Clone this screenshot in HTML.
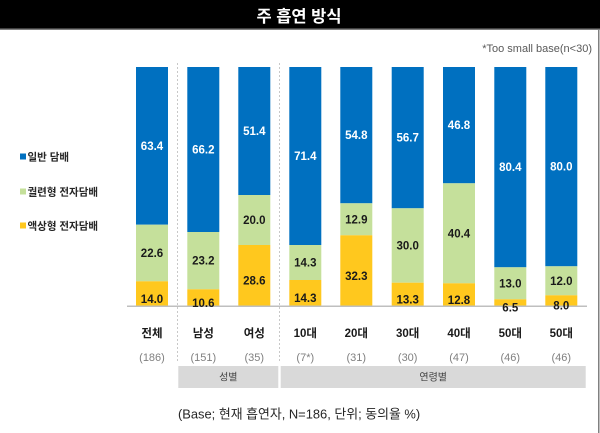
<!DOCTYPE html>
<html>
<head>
<meta charset="utf-8">
<style>
html,body{margin:0;padding:0;background:#fff;}
body{width:600px;height:433px;overflow:hidden;}
svg{display:block;}
text{font-family:"Liberation Sans","Noto Sans CJK KR",sans-serif;}
</style>
</head>
<body>
<svg width="600" height="433" viewBox="0 0 600 433" xmlns="http://www.w3.org/2000/svg">
  <!-- title bar -->
  <rect x="0" y="0" width="600" height="28.5" fill="#000"/>
  <rect x="0" y="28.5" width="600" height="1.5" fill="#808080"/>
  <rect x="598" y="28.5" width="1.5" height="405" fill="#808080"/>
  <text x="299" y="22" text-anchor="middle" font-size="16.5" font-weight="bold" fill="#fff">주 흡연 방식</text>

  <text x="592" y="52" text-anchor="end" font-size="11" fill="#595959">*Too small base(n&lt;30)</text>

  <!-- legend -->
  <rect x="20" y="153.5" width="6" height="6" fill="#0070C0"/>
  <text x="27.5" y="160.5" font-size="10.5" font-weight="bold" fill="#262626">일반 담배</text>
  <rect x="20" y="188.5" width="6" height="6" fill="#C5E09B"/>
  <text x="27.5" y="195.5" font-size="10.5" font-weight="bold" fill="#262626">궐련형 전자담배</text>
  <rect x="20" y="222.5" width="6" height="6" fill="#FFC81E"/>
  <text x="27.5" y="229.5" font-size="10.5" font-weight="bold" fill="#262626">액상형 전자담배</text>

  <!-- separators -->
  <line x1="177.5" y1="63" x2="177.5" y2="363" stroke="#c8c8c8" stroke-width="1" stroke-dasharray="2,2"/>
  <line x1="279.5" y1="63" x2="279.5" y2="363" stroke="#c8c8c8" stroke-width="1" stroke-dasharray="2,2"/>

  <!-- bars -->
  <g id="bars">
    <rect x="136" y="67" width="32" height="157.7" fill="#0070C0"/>
    <rect x="136" y="224.7" width="32" height="56.6" fill="#C5E09B"/>
    <rect x="136" y="281.3" width="32" height="24.5" fill="#FFC81E"/>
    <rect x="187.3" y="67" width="32" height="165" fill="#0070C0"/>
    <rect x="187.3" y="232" width="32" height="57.3" fill="#C5E09B"/>
    <rect x="187.3" y="289.3" width="32" height="16.5" fill="#FFC81E"/>
    <rect x="238.3" y="67" width="32" height="128" fill="#0070C0"/>
    <rect x="238.3" y="195" width="32" height="50" fill="#C5E09B"/>
    <rect x="238.3" y="245" width="32" height="60.8" fill="#FFC81E"/>
    <rect x="289.3" y="67" width="32" height="178" fill="#0070C0"/>
    <rect x="289.3" y="245" width="32" height="35" fill="#C5E09B"/>
    <rect x="289.3" y="280" width="32" height="25.8" fill="#FFC81E"/>
    <rect x="340.3" y="67" width="32" height="136.3" fill="#0070C0"/>
    <rect x="340.3" y="203.3" width="32" height="32" fill="#C5E09B"/>
    <rect x="340.3" y="235.3" width="32" height="70.5" fill="#FFC81E"/>
    <rect x="391.7" y="67" width="32" height="141.3" fill="#0070C0"/>
    <rect x="391.7" y="208.3" width="32" height="74.4" fill="#C5E09B"/>
    <rect x="391.7" y="282.7" width="32" height="23.1" fill="#FFC81E"/>
    <rect x="443" y="67" width="32" height="116.3" fill="#0070C0"/>
    <rect x="443" y="183.3" width="32" height="100" fill="#C5E09B"/>
    <rect x="443" y="283.3" width="32" height="22.5" fill="#FFC81E"/>
    <rect x="494.3" y="67" width="32" height="200.3" fill="#0070C0"/>
    <rect x="494.3" y="267.3" width="32" height="32" fill="#C5E09B"/>
    <rect x="494.3" y="299.3" width="32" height="6.5" fill="#FFC81E"/>
    <rect x="545.3" y="67" width="32" height="199.3" fill="#0070C0"/>
    <rect x="545.3" y="266.3" width="32" height="29" fill="#C5E09B"/>
    <rect x="545.3" y="295.3" width="32" height="10.5" fill="#FFC81E"/>
  </g>

  <!-- axis -->
  <rect x="127" y="305.5" width="460" height="1.5" fill="#bfbfbf"/>

  <!-- value labels -->
  <g font-size="11.5" font-weight="bold" text-anchor="middle">
    <g fill="#fff">
      <text x="152" y="150">63.4</text>
      <text x="203.3" y="153.5">66.2</text>
      <text x="254.3" y="135">51.4</text>
      <text x="305.3" y="160">71.4</text>
      <text x="356.3" y="139">54.8</text>
      <text x="407.7" y="141.5">56.7</text>
      <text x="459" y="129">46.8</text>
      <text x="510.3" y="171">80.4</text>
      <text x="561.3" y="170.5">80.0</text>
    </g>
    <g fill="#1a1a1a">
      <text x="152" y="257">22.6</text>
      <text x="203.3" y="264.5">23.2</text>
      <text x="254.3" y="224">20.0</text>
      <text x="305.3" y="266.5">14.3</text>
      <text x="356.3" y="223.3">12.9</text>
      <text x="407.7" y="249.5">30.0</text>
      <text x="459" y="237.3">40.4</text>
      <text x="510.3" y="287.3">13.0</text>
      <text x="561.3" y="284.8">12.0</text>

      <text x="152" y="303">14.0</text>
      <text x="203.3" y="307">10.6</text>
      <text x="254.3" y="284.5">28.6</text>
      <text x="305.3" y="302">14.3</text>
      <text x="356.3" y="280">32.3</text>
      <text x="407.7" y="303.5">13.3</text>
      <text x="459" y="304">12.8</text>
      <text x="510.3" y="311.5">6.5</text>
      <text x="561.3" y="309.5">8.0</text>
    </g>
  </g>

  <!-- category labels -->
  <g font-size="11.5" text-anchor="middle" fill="#1a1a1a" font-weight="bold">
    <text x="152" y="337">전체</text>
    <text x="203.3" y="337">남성</text>
    <text x="254.3" y="337">여성</text>
    <text x="305.3" y="337">10대</text>
    <text x="356.3" y="337">20대</text>
    <text x="407.7" y="337">30대</text>
    <text x="459" y="337">40대</text>
    <text x="510.3" y="337">50대</text>
    <text x="561.3" y="337">50대</text>
  </g>
  <g font-size="11" text-anchor="middle" fill="#808080">
    <text x="152" y="361">(186)</text>
    <text x="203.3" y="361">(151)</text>
    <text x="254.3" y="361">(35)</text>
    <text x="305.3" y="361">(7*)</text>
    <text x="356.3" y="361">(31)</text>
    <text x="407.7" y="361">(30)</text>
    <text x="459" y="361">(47)</text>
    <text x="510.3" y="361">(46)</text>
    <text x="561.3" y="361">(46)</text>
  </g>

  <!-- group boxes -->
  <rect x="178.3" y="366" width="100" height="22" fill="#d9d9d9"/>
  <rect x="280.7" y="366" width="305" height="22" fill="#d9d9d9"/>
  <g font-size="10" text-anchor="middle" fill="#404040">
    <text x="228.3" y="380.5">성별</text>
    <text x="433.2" y="380.5">연령별</text>
  </g>

  <!-- footer -->
  <text x="178" y="418.5" font-size="12.9" fill="#262626">(Base; 현재 흡연자, N=186, 단위; 동의율 %)</text>
</svg>
</body>
</html>
